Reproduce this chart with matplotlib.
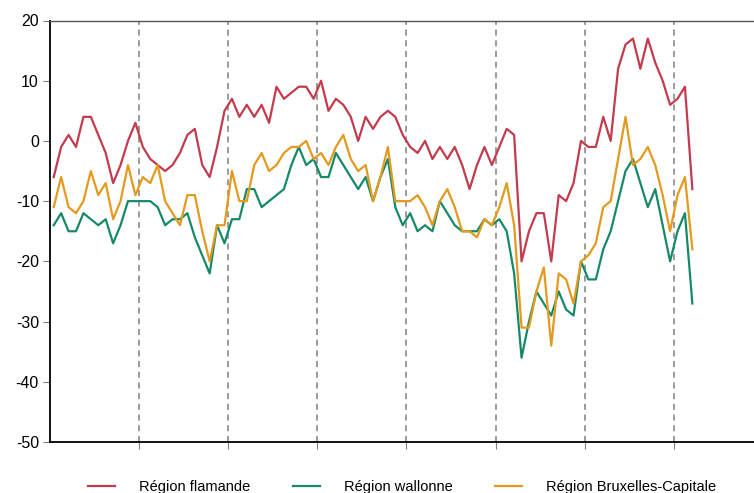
import matplotlib
matplotlib.use("Agg")
import matplotlib.pyplot as plt
import numpy as np

plt.rcParams['font.family'] = ['Liberation Sans', 'DejaVu Sans']
plt.rcParams['axes.unicode_minus'] = False

# monthly values, three regions
flandre = [-6, -1, 1, -1, 4, 4, 1, -2, -7, -4, 0, 3,
           -1, -3, -4, -5, -4, -2, 1, 2, -4, -6, -1, 5,
           7, 4, 6, 4, 6, 3, 9, 7, 8, 9, 9, 7,
           10, 5, 7, 6, 4, 0, 4, 2, 4, 5, 4, 1,
           -1, -2, 0, -3, -1, -3, -1, -4, -8, -4, -1, -4,
           -1, 2, 1, -20, -15, -12, -12, -20, -9, -10, -7, 0,
           -1, -1, 4, 0, 12, 16, 17, 12, 17, 13, 10, 6,
           7, 9, -8]
wallonie = [-14, -12, -15, -15, -12, -13, -14, -13, -17, -14, -10, -10,
            -10, -10, -11, -14, -13, -13, -12, -16, -19, -22, -14, -17,
            -13, -13, -8, -8, -11, -10, -9, -8, -4, -1, -4, -3,
            -6, -6, -2, -4, -6, -8, -6, -10, -6, -3, -11, -14,
            -12, -15, -14, -15, -10, -12, -14, -15, -15, -15, -13, -14,
            -13, -15, -22, -36, -30, -25, -27, -29, -25, -28, -29, -20,
            -23, -23, -18, -15, -10, -5, -3, -7, -11, -8, -14, -20,
            -15, -12, -27]
bruxelles = [-11, -6, -11, -12, -10, -5, -9, -7, -13, -10, -4, -9,
             -6, -7, -4, -10, -12, -14, -9, -9, -15, -20, -14, -14,
             -5, -10, -10, -4, -2, -5, -4, -2, -1, -1, 0, -3,
             -2, -4, -1, 1, -3, -5, -4, -10, -6, -1, -10, -10,
             -10, -9, -11, -14, -10, -8, -11, -15, -15, -16, -13, -14,
             -11, -7, -14, -31, -31, -25, -21, -34, -22, -23, -27, -20,
             -19, -17, -11, -10, -3, 4, -4, -3, -1, -4, -9, -15,
             -9, -6, -18]
labels = ['Région flamande', 'Région wallonne', 'Région Bruxelles-Capitale']
colors = ['#C23B4E', '#168A68', '#E39A1E']
year_breaks = [11.5, 23.5, 35.5, 47.5, 59.5, 71.5, 83.5]

fig = plt.figure(figsize=(7.54, 4.93), dpi=100)
ax = fig.add_axes([50/754, 1 - 442/493, 1 - 50/754, (442 - 20.5)/493])

x = np.arange(len(flandre))
for serie, lab, col in zip([flandre, wallonie, bruxelles], labels, colors):
    ax.plot(x, serie, color=col, lw=1.6, label=lab, zorder=3)

for xb in year_breaks:
    ax.axvline(xb, color='#808080', lw=1.1, ls=(0, (4, 3)), zorder=1)

ax.set_xlim(-0.5, 94.3)
ax.set_ylim(-50, 20)
ax.set_yticks(range(-50, 21, 10))
ax.set_xticks(year_breaks)
ax.set_xticklabels([])
ax.tick_params(axis='y', labelsize=11.5, length=5, color='#808080', pad=3)
ax.tick_params(axis='x', length=5, color='#808080')

ax.spines['right'].set_visible(False)
ax.spines['top'].set_color('#555555')
ax.spines['top'].set_linewidth(1.0)
ax.spines['left'].set_color('black')
ax.spines['bottom'].set_color('black')
ax.spines['left'].set_linewidth(1.3)
ax.spines['bottom'].set_linewidth(1.3)

fig.legend(loc='center left', bbox_to_anchor=(88/754, 0.012), ncol=3,
           frameon=False, fontsize=10.5, borderpad=0, borderaxespad=0,
           handlelength=1.85, handletextpad=1.65, columnspacing=2.9)

fig.savefig('out.png', dpi=100)
